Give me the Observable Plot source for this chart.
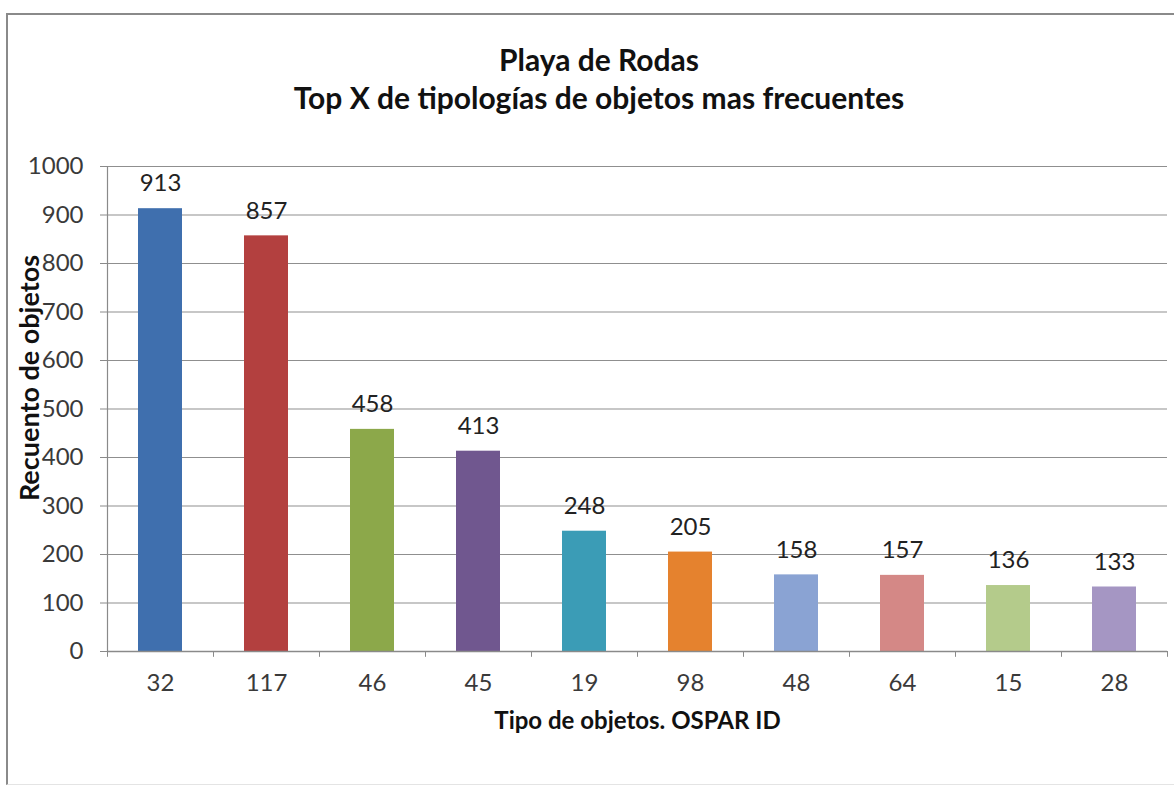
<!DOCTYPE html>
<html>
<head>
<meta charset="utf-8">
<script src="https://cdn.jsdelivr.net/npm/d3@7"></script>
<script src="https://cdn.jsdelivr.net/npm/@observablehq/plot@0.6"></script>
<style>
  html, body { margin: 0; padding: 0; background: #fff; }
  #wrap { position: relative; width: 1174px; height: 788px; overflow: hidden; font-family: Lato, "Open Sans", sans-serif; }
  #frame { position: absolute; left: 6px; top: 13px; width: 1180px; height: 769px; border-top: 2px solid #8a8a8a; border-left: 2px solid #8a8a8a; border-bottom: 1px solid #e4e4e4; }
  #title { position: absolute; left: 0; width: 1198px; top: 40px; text-align: center; font-weight: bold; font-size: 30px; line-height: 38px; color: #111; }
  #chart { position: absolute; left: 0; top: 130px; }
</style>
</head>
<body>
<div id="wrap">
  <div id="frame"></div>
  <div id="title">Playa de Rodas<br>Top X de tipologías de objetos mas frecuentes</div>
  <div id="chart"></div>
</div>
<script>
const ids = ["32", "117", "46", "45", "19", "98", "48", "64", "15", "28"];
const counts = [913, 857, 458, 413, 248, 205, 158, 157, 136, 133];
const barColors = ["#3f6fae", "#b3403f", "#8ca84a", "#70578f", "#3b9cb6", "#e5822e", "#8aa3d3", "#d48886", "#b4cb8b", "#a596c3"];
const yTicks = [0, 100, 200, 300, 400, 500, 600, 700, 800, 900, 1000];
const yTitle = "Recuento de objetos";
const xTitle = "Tipo de objetos. OSPAR ID";

const data = ids.map((id, i) => ({id, count: counts[i], color: barColors[i]}));

const W = 1174, H = 658, mL = 107, mR = 7, mT = 36, mB = 137;
const bandW = (W - mL - mR) / ids.length;

const chart = Plot.plot({
  width: W, height: H,
  marginLeft: mL, marginRight: mR, marginTop: mT, marginBottom: mB,
  style: {fontFamily: "Lato, 'Open Sans', sans-serif", fontSize: "24px", background: "transparent", color: "#333"},
  x: {domain: ids, paddingInner: 0.585, paddingOuter: 0.2925, label: null},
  y: {domain: [0, 1000], label: null},
  color: {type: "identity"},
  marks: [
    Plot.gridY(yTicks, {stroke: "#8f8f8f", strokeOpacity: 1, strokeWidth: 1.2}),
    Plot.barY(data, {x: "id", y: "count", fill: "color"}),
    Plot.ruleY([0], {stroke: "#8a8a8a", strokeWidth: 1.5}),
    Plot.ruleX([ids[0]], {x: d => d, dx: -bandW / 2, y1: 0, y2: 1000, stroke: "#8a8a8a", strokeWidth: 1.2}),
    Plot.ruleX(ids, {x: d => d, dx: -bandW / 2, y1: 0, y2: -12, stroke: "#8a8a8a"}),
    Plot.ruleX([ids[ids.length - 1]], {x: d => d, dx: bandW / 2, y1: 0, y2: -12, stroke: "#8a8a8a"}),
    Plot.axisY(yTicks, {tickSize: 7, tickPadding: 17, stroke: "#8a8a8a", label: null, fill: "#3a3a3a", tickFormat: d => String(d)}),
    Plot.axisX({tickSize: 0, tickPadding: 22, label: null, fill: "#3a3a3a"}),
    Plot.text(data, {x: "id", y: "count", text: d => String(d.count), dy: -25, fontSize: 24, fill: "#222"}),
    Plot.text([yTitle], {frameAnchor: "left", textAnchor: "middle", rotate: -90, dx: -77, dy: -31, fontWeight: "bold", fontSize: 27, fill: "#111"}),
    Plot.text([xTitle], {frameAnchor: "bottom", dy: 77, fontWeight: "bold", fontSize: 24, fill: "#111"})
  ]
});
document.getElementById("chart").appendChild(chart);
</script>
</body>
</html>
